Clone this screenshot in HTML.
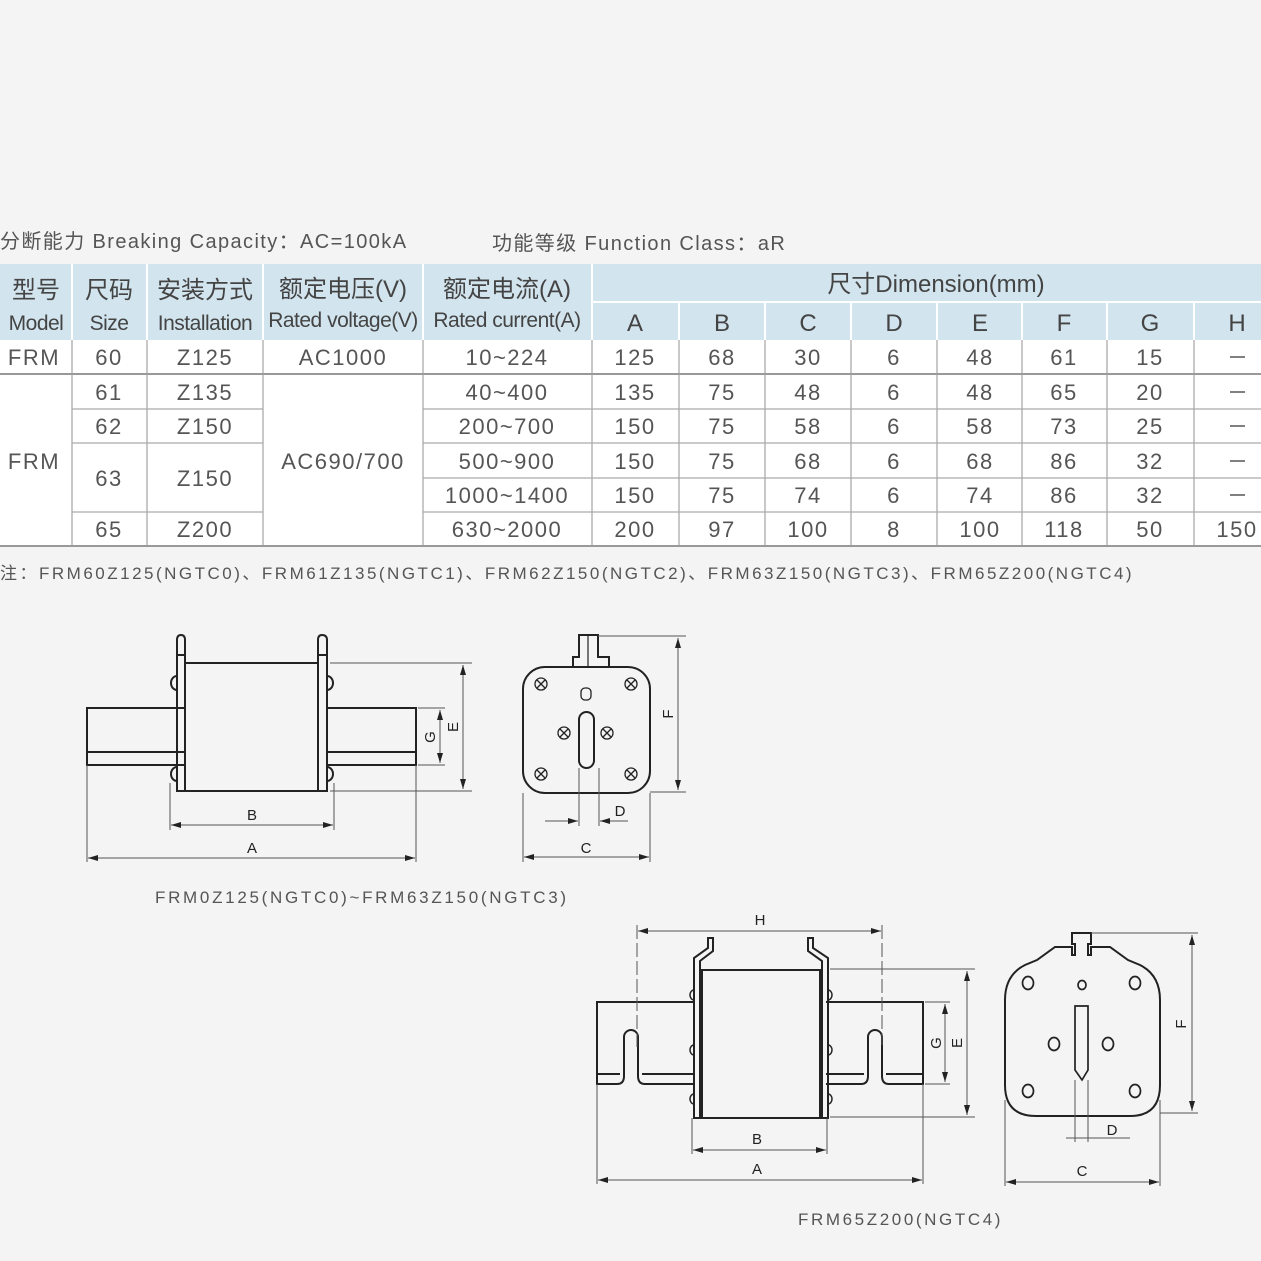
<!DOCTYPE html>
<html><head><meta charset="utf-8"><style>
html,body{margin:0;padding:0;background:#f4f4f4;}
svg{display:block}
text{font-family:"Liberation Sans","Noto Sans CJK SC",sans-serif;fill:#555;}
.t{font-size:22px;letter-spacing:1.5px;text-anchor:middle}
.h{font-size:24px;text-anchor:middle;fill:#444}
.hs{font-size:21px;text-anchor:middle;fill:#444;letter-spacing:-0.5px}
.d{fill:none;stroke:#222;stroke-width:2}
.dl{fill:none;stroke:#555;stroke-width:1}
.lb{font-size:15px;text-anchor:middle;fill:#222}
</style></head><body>
<svg width="1261" height="1261" viewBox="0 0 1261 1261" xmlns="http://www.w3.org/2000/svg">
<defs><marker id="ar" markerWidth="10" markerHeight="8" refX="10" refY="4" orient="auto-start-reverse" markerUnits="userSpaceOnUse"><path d="M0,1 L10,4 L0,7 Z" fill="#222"/></marker></defs>
<rect width="1261" height="1261" fill="#f4f4f4"/>
<text x="0" y="248" style="font-size:20px;letter-spacing:1.4px">分断能力 Breaking Capacity：AC=100kA</text>
<text x="492" y="250" style="font-size:20px;letter-spacing:1.4px">功能等级 Function Class：aR</text>

<!-- table -->
<rect x="0" y="264" width="1261" height="76" fill="#d2e4ed"/>
<rect x="0" y="340" width="1261" height="206" fill="#fff"/>
<g stroke="#fff" stroke-width="2">
<line x1="72" y1="264" x2="72" y2="340"/><line x1="147" y1="264" x2="147" y2="340"/><line x1="263" y1="264" x2="263" y2="340"/><line x1="423" y1="264" x2="423" y2="340"/><line x1="592" y1="264" x2="592" y2="340"/>
<line x1="592" y1="302" x2="1261" y2="302"/>
<line x1="679" y1="302" x2="679" y2="340"/><line x1="765" y1="302" x2="765" y2="340"/><line x1="851" y1="302" x2="851" y2="340"/><line x1="937" y1="302" x2="937" y2="340"/><line x1="1022" y1="302" x2="1022" y2="340"/><line x1="1107" y1="302" x2="1107" y2="340"/><line x1="1194" y1="302" x2="1194" y2="340"/>
</g>
<g stroke="#aaa" stroke-width="1.3">
<line x1="72" y1="340" x2="72" y2="546"/><line x1="147" y1="340" x2="147" y2="546"/><line x1="263" y1="340" x2="263" y2="546"/><line x1="423" y1="340" x2="423" y2="546"/><line x1="592" y1="340" x2="592" y2="546"/>
<line x1="679" y1="340" x2="679" y2="546"/><line x1="765" y1="340" x2="765" y2="546"/><line x1="851" y1="340" x2="851" y2="546"/><line x1="937" y1="340" x2="937" y2="546"/><line x1="1022" y1="340" x2="1022" y2="546"/><line x1="1107" y1="340" x2="1107" y2="546"/><line x1="1194" y1="340" x2="1194" y2="546"/>
<line x1="72" y1="409" x2="263" y2="409"/><line x1="72" y1="443" x2="263" y2="443"/><line x1="72" y1="512" x2="263" y2="512"/>
<line x1="423" y1="409" x2="1261" y2="409"/><line x1="423" y1="443" x2="1261" y2="443"/><line x1="423" y1="478" x2="1261" y2="478"/><line x1="423" y1="512" x2="1261" y2="512"/>
</g>
<g stroke="#999" stroke-width="2"><line x1="0" y1="374" x2="1261" y2="374"/><line x1="0" y1="546" x2="1261" y2="546"/></g>

<text class="h" x="36" y="298">型号</text><text class="hs" x="36" y="330">Model</text>
<text class="h" x="109" y="298">尺码</text><text class="hs" x="109" y="330">Size</text>
<text class="h" x="205" y="298">安装方式</text><text class="hs" x="205" y="330">Installation</text>
<text class="h" x="343" y="297">额定电压(V)</text><text class="hs" x="343" y="327">Rated voltage(V)</text>
<text class="h" x="507" y="297">额定电流(A)</text><text class="hs" x="507" y="327">Rated current(A)</text>
<text class="h" x="936" y="292">尺寸Dimension(mm)</text>
<g class="h"><text class="h" x="635" y="331">A</text><text class="h" x="722" y="331">B</text><text class="h" x="808" y="331">C</text><text class="h" x="894" y="331">D</text><text class="h" x="980" y="331">E</text><text class="h" x="1064" y="331">F</text><text class="h" x="1150" y="331">G</text><text class="h" x="1237" y="331">H</text></g>

<text class="t" x="34" y="365">FRM</text><text class="t" x="109" y="365">60</text><text class="t" x="205" y="365">Z125</text><text class="t" x="343" y="365">AC1000</text><text class="t" x="507" y="365">10~224</text>
<text class="t" x="34" y="469">FRM</text><text class="t" x="343" y="469">AC690/700</text>
<text class="t" x="109" y="400">61</text><text class="t" x="205" y="400">Z135</text>
<text class="t" x="109" y="434">62</text><text class="t" x="205" y="434">Z150</text>
<text class="t" x="109" y="486">63</text><text class="t" x="205" y="486">Z150</text>
<text class="t" x="109" y="537">65</text><text class="t" x="205" y="537">Z200</text>
<text class="t" x="507" y="400">40~400</text><text class="t" x="507" y="434">200~700</text><text class="t" x="507" y="469">500~900</text><text class="t" x="507" y="503">1000~1400</text><text class="t" x="507" y="537">630~2000</text>
<g>
<text class="t" x="635" y="365">125</text><text class="t" x="722" y="365">68</text><text class="t" x="808" y="365">30</text><text class="t" x="894" y="365">6</text><text class="t" x="980" y="365">48</text><text class="t" x="1064" y="365">61</text><text class="t" x="1150" y="365">15</text>
<text class="t" x="635" y="400">135</text><text class="t" x="722" y="400">75</text><text class="t" x="808" y="400">48</text><text class="t" x="894" y="400">6</text><text class="t" x="980" y="400">48</text><text class="t" x="1064" y="400">65</text><text class="t" x="1150" y="400">20</text>
<text class="t" x="635" y="434">150</text><text class="t" x="722" y="434">75</text><text class="t" x="808" y="434">58</text><text class="t" x="894" y="434">6</text><text class="t" x="980" y="434">58</text><text class="t" x="1064" y="434">73</text><text class="t" x="1150" y="434">25</text>
<text class="t" x="635" y="469">150</text><text class="t" x="722" y="469">75</text><text class="t" x="808" y="469">68</text><text class="t" x="894" y="469">6</text><text class="t" x="980" y="469">68</text><text class="t" x="1064" y="469">86</text><text class="t" x="1150" y="469">32</text>
<text class="t" x="635" y="503">150</text><text class="t" x="722" y="503">75</text><text class="t" x="808" y="503">74</text><text class="t" x="894" y="503">6</text><text class="t" x="980" y="503">74</text><text class="t" x="1064" y="503">86</text><text class="t" x="1150" y="503">32</text>
<text class="t" x="635" y="537">200</text><text class="t" x="722" y="537">97</text><text class="t" x="808" y="537">100</text><text class="t" x="894" y="537">8</text><text class="t" x="980" y="537">100</text><text class="t" x="1064" y="537">118</text><text class="t" x="1150" y="537">50</text><text class="t" x="1237" y="537">150</text>
</g>
<g stroke="#555" stroke-width="1.5"><line x1="1230" y1="357" x2="1245" y2="357"/><line x1="1230" y1="392" x2="1245" y2="392"/><line x1="1230" y1="426" x2="1245" y2="426"/><line x1="1230" y1="461" x2="1245" y2="461"/><line x1="1230" y1="495" x2="1245" y2="495"/></g>

<text x="0" y="579" style="font-size:17px;letter-spacing:2.5px">注：FRM60Z125(NGTC0)、FRM61Z135(NGTC1)、FRM62Z150(NGTC2)、FRM63Z150(NGTC3)、FRM65Z200(NGTC4)</text>

<!-- drawing 1 front -->
<rect class="d" x="87" y="708" width="98" height="57" fill="#f4f4f4"/>
<rect class="d" x="327" y="708" width="89" height="57" fill="#f4f4f4"/>
<line class="d" x1="87" y1="752" x2="185" y2="752"/><line class="d" x1="327" y1="752" x2="416" y2="752"/>
<rect class="d" x="185" y="663" width="133" height="128" fill="#f4f4f4"/>
<path class="d" d="M177,791 V640 Q177,635 181,635 Q185,635 185,640 V791 Z"/>
<path class="d" d="M318,791 V640 Q318,635 322,635 Q327,635 327,640 V791 Z"/>
<line class="d" x1="177" y1="655" x2="185" y2="655"/><line class="d" x1="318" y1="655" x2="327" y2="655"/>
<path class="d" d="M177,676 A6,7 0 0 0 177,690"/><path class="d" d="M177,767 A6,7 0 0 0 177,781"/>
<path class="d" d="M327,676 A6,7 0 0 1 327,690"/><path class="d" d="M327,767 A6,7 0 0 1 327,781"/>
<g class="dl">
<line x1="330" y1="663" x2="472" y2="663"/><line x1="330" y1="791" x2="472" y2="791"/>
<line x1="418" y1="708" x2="445" y2="708"/><line x1="418" y1="765" x2="445" y2="765"/>
<line x1="463" y1="665" x2="463" y2="789" marker-start="url(#ar)" marker-end="url(#ar)"/>
<line x1="440" y1="710" x2="440" y2="763" marker-start="url(#ar)" marker-end="url(#ar)"/>
<line x1="87" y1="765" x2="87" y2="862"/><line x1="416" y1="765" x2="416" y2="862"/>
<line x1="170" y1="783" x2="170" y2="830"/><line x1="334" y1="783" x2="334" y2="830"/>
<line x1="171" y1="825" x2="333" y2="825" marker-start="url(#ar)" marker-end="url(#ar)"/>
<line x1="88" y1="858" x2="415" y2="858" marker-start="url(#ar)" marker-end="url(#ar)"/>
</g>
<text class="lb" x="252" y="820">B</text><text class="lb" x="252" y="853">A</text>
<text class="lb" transform="translate(435,737) rotate(-90)">G</text>
<text class="lb" transform="translate(458,727) rotate(-90)">E</text>

<!-- drawing 1 side -->
<path class="d" d="M573,667 V657 H579 V635 H598 V657 H609 V667"/>
<line class="d" x1="588" y1="636" x2="588" y2="667" style="stroke-width:1.2"/>
<rect class="d" x="523" y="667" width="127" height="126" rx="22"/>
<rect class="d" x="579" y="712" width="15" height="56" rx="7.5"/>
<g class="d" style="stroke-width:1.3">
<circle cx="541" cy="684" r="6"/><circle cx="631" cy="684" r="6"/><circle cx="541" cy="774" r="6"/><circle cx="631" cy="774" r="6"/><circle cx="564" cy="733" r="6"/><circle cx="607" cy="733" r="6"/>
<path d="M537,680 l8,8 M545,680 l-8,8 M627,680 l8,8 M635,680 l-8,8 M537,770 l8,8 M545,770 l-8,8 M627,770 l8,8 M635,770 l-8,8 M560,729 l8,8 M568,729 l-8,8 M603,729 l8,8 M611,729 l-8,8"/>
<rect x="581" y="688" width="10" height="12" rx="4"/>
</g>
<g class="dl">
<line x1="598" y1="636" x2="686" y2="636"/><line x1="650" y1="792" x2="686" y2="792"/>
<line x1="678" y1="638" x2="678" y2="790" marker-start="url(#ar)" marker-end="url(#ar)"/>
<line x1="579" y1="768" x2="579" y2="826"/><line x1="599" y1="768" x2="599" y2="826"/>
<line x1="545" y1="821" x2="578" y2="821" marker-end="url(#ar)"/><line x1="628" y1="821" x2="600" y2="821" marker-end="url(#ar)"/>
<line x1="523" y1="793" x2="523" y2="862"/><line x1="650" y1="793" x2="650" y2="862"/>
<line x1="524" y1="857" x2="649" y2="857" marker-start="url(#ar)" marker-end="url(#ar)"/>
</g>
<text class="lb" x="620" y="816">D</text><text class="lb" x="586" y="853">C</text>
<text class="lb" transform="translate(673,714) rotate(-90)">F</text>
<text x="155" y="903" style="font-size:17px;letter-spacing:2.7px">FRM0Z125(NGTC0)~FRM63Z150(NGTC3)</text>

<!-- drawing 2 front -->
<path class="d" d="M694,1002 H597 V1084 H617 Q624,1084 624,1076 V1037 A7,7 0 0 1 638,1037 V1076 Q638,1084 645,1084 H694"/>
<line class="d" x1="597" y1="1074" x2="620" y2="1074"/><line class="d" x1="642" y1="1074" x2="694" y2="1074"/>
<path class="d" d="M826,1002 H923 V1084 H889 Q882,1084 882,1076 V1037 A7,7 0 0 0 868,1037 V1076 Q868,1084 861,1084 H826"/>
<line class="d" x1="826" y1="1074" x2="864" y2="1074"/><line class="d" x1="886" y1="1074" x2="923" y2="1074"/>
<rect class="d" x="702" y="970" width="118" height="148" fill="#f4f4f4"/>
<path class="d" d="M694,1118 V958 L708,948 V938 H713 V951 L700,961 V1118 Z"/>
<path class="d" d="M828,1118 V958 L813,948 V938 H808 V951 L822,961 V1118 Z"/>
<g class="d" style="stroke-width:1.5">
<path d="M694,990 a4,5 0 0 0 0,10 M694,1045 a4,5 0 0 0 0,10 M694,1094 a4,5 0 0 0 0,10"/>
<path d="M828,990 a4,5 0 0 1 0,10 M828,1045 a4,5 0 0 1 0,10 M828,1094 a4,5 0 0 1 0,10"/>
</g>
<g class="dl">
<line x1="637" y1="925" x2="637" y2="1050" stroke-dasharray="14,4"/><line x1="882" y1="925" x2="882" y2="1045" stroke-dasharray="14,4"/>
<line x1="638" y1="931" x2="881" y2="931" marker-start="url(#ar)" marker-end="url(#ar)"/>
<line x1="830" y1="969" x2="975" y2="969"/><line x1="830" y1="1117" x2="975" y2="1117"/>
<line x1="925" y1="1002" x2="950" y2="1002"/><line x1="925" y1="1084" x2="950" y2="1084"/>
<line x1="945" y1="1004" x2="945" y2="1082" marker-start="url(#ar)" marker-end="url(#ar)"/>
<line x1="967" y1="971" x2="967" y2="1115" marker-start="url(#ar)" marker-end="url(#ar)"/>
<line x1="692" y1="1118" x2="692" y2="1154"/><line x1="827" y1="1118" x2="827" y2="1154"/>
<line x1="693" y1="1150" x2="826" y2="1150" marker-start="url(#ar)" marker-end="url(#ar)"/>
<line x1="597" y1="1084" x2="597" y2="1184"/><line x1="923" y1="1084" x2="923" y2="1184"/>
<line x1="598" y1="1180" x2="922" y2="1180" marker-start="url(#ar)" marker-end="url(#ar)"/>
</g>
<text class="lb" x="760" y="925">H</text><text class="lb" x="757" y="1144">B</text><text class="lb" x="757" y="1174">A</text>
<text class="lb" transform="translate(941,1043) rotate(-90)">G</text>
<text class="lb" transform="translate(962,1043) rotate(-90)">E</text>

<!-- drawing 2 side -->
<path class="d" d="M1025,965 Q1005,975 1005,1000 V1085 Q1005,1116 1036,1116 H1130 Q1160,1116 1160,1085 V1000 Q1160,975 1140,965 L1128,960 L1110,947 H1091 V955 H1088 V944 H1091 V933 H1072 V944 H1075 V955 H1072 V947 H1055 L1037,960 Z"/>
<g class="d" style="stroke-width:1.7">
<ellipse cx="1028" cy="983" rx="5.5" ry="6.5"/><ellipse cx="1082" cy="985" rx="4" ry="4.5"/><ellipse cx="1135" cy="983" rx="5.5" ry="6.5"/>
<ellipse cx="1054" cy="1044" rx="5.5" ry="6.5"/><ellipse cx="1108" cy="1044" rx="5.5" ry="6.5"/>
<ellipse cx="1028" cy="1091" rx="5.5" ry="6.5"/><ellipse cx="1135" cy="1091" rx="5.5" ry="6.5"/>
<path d="M1075,1006 H1088 V1070 L1082,1080 L1075,1070 Z"/>
</g>
<g class="dl">
<line x1="1091" y1="933" x2="1198" y2="933"/><line x1="1160" y1="1113" x2="1198" y2="1113"/>
<line x1="1192" y1="935" x2="1192" y2="1111" marker-start="url(#ar)" marker-end="url(#ar)"/>
<line x1="1075" y1="1080" x2="1075" y2="1142"/><line x1="1088" y1="1080" x2="1088" y2="1142"/>
<line x1="1066" y1="1138" x2="1130" y2="1138"/>
<line x1="1005" y1="1100" x2="1005" y2="1186"/><line x1="1160" y1="1100" x2="1160" y2="1186"/>
<line x1="1006" y1="1182" x2="1159" y2="1182" marker-start="url(#ar)" marker-end="url(#ar)"/>
</g>
<text class="lb" x="1112" y="1135">D</text><text class="lb" x="1082" y="1176">C</text>
<text class="lb" transform="translate(1186,1024) rotate(-90)">F</text>
<text x="798" y="1225" style="font-size:17px;letter-spacing:2.6px">FRM65Z200(NGTC4)</text>
</svg>
</body></html>
